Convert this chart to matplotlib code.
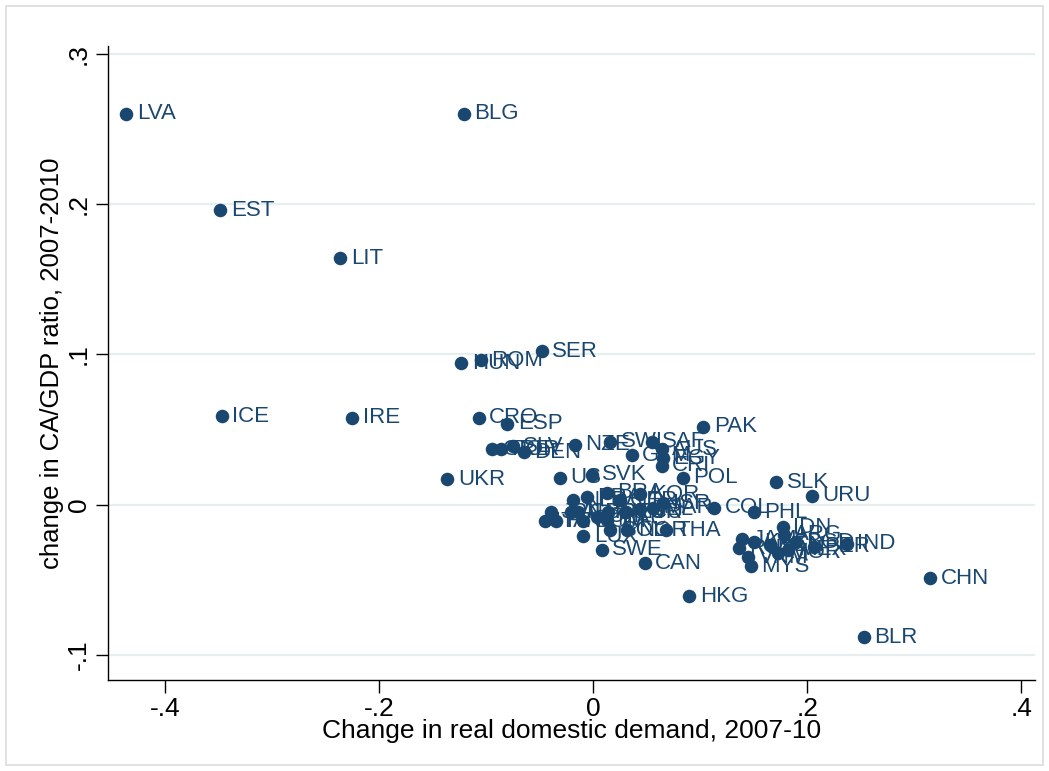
import matplotlib
matplotlib.use('Agg')
import matplotlib.pyplot as plt
from matplotlib.patches import Rectangle

plt.rcParams['font.family'] = ['Liberation Sans', 'DejaVu Sans']

# country codes and values
countries = ['LVA', 'BLG', 'EST', 'LIT', 'SER', 'HUN', 'ROM', 'ICE', 'IRE', 'CRO',
             'ESP', 'PAK', 'GRE', 'POR', 'SLV', 'DEN', 'NZE', 'SWI', 'SAF', 'GTM',
             'AUS', 'EGY', 'CRI', 'POL', 'UKR', 'US', 'SVK', 'SLK', 'URU', 'NLD',
             'FRA', 'BRA', 'GER', 'KOR', 'ISR', 'TUR', 'MAR', 'BEL', 'JPN', 'ITA',
             'FIN', 'AUT', 'GBR', 'NOR', 'CHL', 'MAC', 'TUN', 'ECU', 'BOL', 'DOM',
             'LUX', 'SWE', 'THA', 'CAN', 'HKG', 'COL', 'PHL', 'IDN', 'ARG', 'JAM',
             'RUS', 'KAZ', 'VEN', 'MEX', 'BGD', 'PER', 'IND', 'VNM', 'MOR', 'MYS',
             'CHN', 'BLR']
dd_change = [-0.436, -0.121, -0.348, -0.236, -0.048, -0.123, -0.105, -0.347, -0.225, -0.107,
             -0.080, 0.103, -0.094, -0.086, -0.075, -0.065, -0.017, 0.016, 0.055, 0.036,
             0.064, 0.065, 0.064, 0.084, -0.136, -0.031, -0.001, 0.171, 0.204, -0.019,
             -0.006, 0.013, 0.025, 0.044, 0.065, 0.031, 0.056, 0.044, -0.039, -0.045,
             -0.035, -0.021, -0.014, 0.032, 0.004, 0.013, 0.014, 0.030, 0.016, -0.009,
             -0.009, 0.008, 0.068, 0.048, 0.090, 0.113, 0.150, 0.177, 0.178, 0.139,
             0.136, 0.150, 0.165, 0.182, 0.189, 0.206, 0.237, 0.145, 0.173, 0.147,
             0.315, 0.253]
ca_change = [0.260, 0.260, 0.196, 0.164, 0.102, 0.094, 0.096, 0.059, 0.058, 0.058,
             0.054, 0.052, 0.037, 0.037, 0.039, 0.035, 0.040, 0.042, 0.042, 0.033,
             0.037, 0.031, 0.026, 0.018, 0.017, 0.018, 0.020, 0.015, 0.006, 0.003,
             0.005, 0.008, 0.003, 0.007, 0.001, -0.005, -0.002, -0.003, -0.005, -0.011,
             -0.011, -0.005, -0.005, -0.017, -0.008, -0.010, -0.005, -0.005, -0.017, -0.011,
             -0.021, -0.030, -0.017, -0.039, -0.061, -0.002, -0.005, -0.015, -0.020, -0.023,
             -0.029, -0.025, -0.027, -0.030, -0.025, -0.028, -0.026, -0.035, -0.032, -0.041,
             -0.049, -0.088]

navy = '#1a476f'

fig = plt.figure(figsize=(10.49, 7.71), dpi=100)
fig.patches.append(Rectangle((0.006, 0.008), 0.988, 0.984, transform=fig.transFigure,
                             fill=False, edgecolor='#dcdcdc', linewidth=1.2))
ax = fig.add_axes([0.103, 0.118, 0.884, 0.822])

ax.scatter(dd_change, ca_change, s=95, color=navy, zorder=3, linewidths=0)
for name, x, y in zip(countries, dd_change, ca_change):
    ax.annotate(name, (x, y), xytext=(7.5, 0), textcoords='offset points',
                va='center', ha='left', fontsize=16, color=navy, zorder=4)

ax.set_xlim(-0.453, 0.413)
ax.set_ylim(-0.1166, 0.305)
xt = [-0.4, -0.2, 0, 0.2, 0.4]
yt = [-0.1, 0, 0.1, 0.2, 0.3]
ax.set_xticks(xt)
ax.set_xticklabels(['-.4', '-.2', '0', '.2', '.4'])
ax.set_yticks(yt)
ax.set_yticklabels(['-.1', '0', '.1', '.2', '.3'], rotation=90, va='center')
ax.tick_params(axis='both', labelsize=19, length=9, width=1, direction='out')

for y in yt:
    ax.axhline(y, color='#e6eef0', linewidth=1.6, zorder=1)

for s in ['top', 'right']:
    ax.spines[s].set_visible(False)
ax.spines['left'].set_linewidth(1)
ax.spines['bottom'].set_linewidth(1)

ax.set_xlabel('Change in real domestic demand, 2007-10', fontsize=19, labelpad=-2)
ax.set_ylabel('change in CA/GDP ratio, 2007-2010', fontsize=18.5, labelpad=2)

plt.savefig('out.png', dpi=100)
